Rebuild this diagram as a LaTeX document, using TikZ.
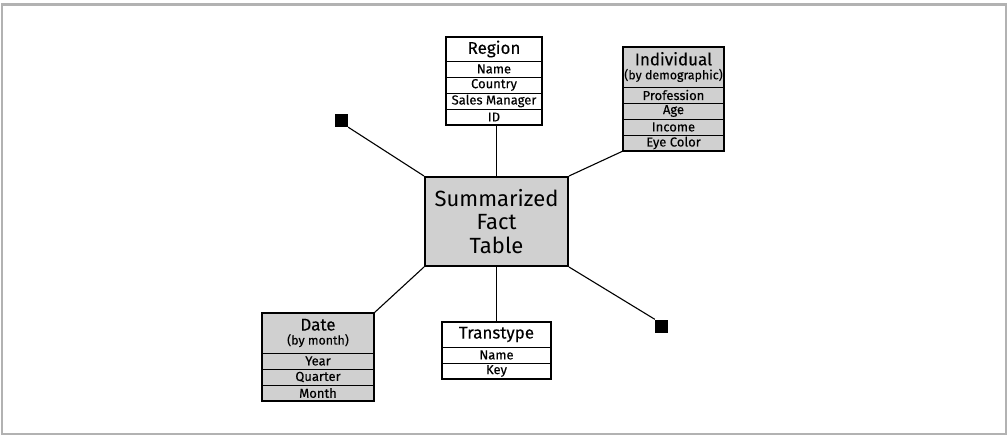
\documentclass[tikz,border=0pt]{standalone}
\usepackage{fontspec}
\setmainfont{Fira Sans}
\newfontfamily\cellfont{Fira Sans}[FakeBold=0.2]
\usetikzlibrary{positioning}

\definecolor{cellgray}{RGB}{208,208,208}
\definecolor{framegray}{RGB}{178,178,178}

\tikzset{
	tabhead/.style={draw, line width=1pt, inner sep=0pt, outer sep=0pt, anchor=north west,
		align=center, font=\cellfont\fontsize{17}{15}\selectfont},
	tabfield/.style={draw, line width=1pt, inner sep=0pt, outer sep=0pt, minimum height=16pt,
		below=0pt of #1, font=\cellfont\fontsize{13}{12}\selectfont},
	taboutline/.style={line width=2pt},
	link/.style={line width=1.1pt},
	stub/.style={fill=black, inner sep=0pt, minimum size=13pt},
	shaded/.style={fill=cellgray},
}
\newcommand{\subhead}[1]{\\[-1pt]{\cellfont\fontsize{12.4}{12}\selectfont #1}}

\begin{document}
\begin{tikzpicture}[x=1pt, y=-1pt]
	\useasboundingbox (0,0) rectangle (1008,436);
	\draw[framegray, line width=2.5pt] (2,4.5) rectangle (1006,434);
	
	% the fact table in the middle
	\node[draw, taboutline, shaded, minimum width=143pt, minimum height=89pt, inner sep=0pt,
		align=center, font=\fontsize{22}{23.5}\selectfont] (fact) at (496.5,221.5)
		{Summarized\\Fact\\Table};
	
	% Region (white)
	\begin{scope}[every node/.append style={minimum width=96pt}]
		\node[tabhead, minimum height=24pt] (region) at (446,37) {Region};
		\node[tabfield=region] (regname) {Name};
		\node[tabfield=regname] (regcountry) {Country};
		\node[tabfield=regcountry] (regmanager) {Sales Manager};
		\node[tabfield=regmanager] (regid) {ID};
	\end{scope}
	\draw[taboutline] (region.north west) rectangle (regid.south east);
	
	% Individual (shaded)
	\begin{scope}[every node/.append style={minimum width=101pt, shaded}]
		\node[tabhead, minimum height=40pt] (indiv) at (623,47) {Individual\subhead{(by demographic)}};
		\node[tabfield=indiv] (indprof) {Profession};
		\node[tabfield=indprof] (indage) {Age};
		\node[tabfield=indage] (indincome) {Income};
		\node[tabfield=indincome] (indeyes) {Eye Color};
	\end{scope}
	\draw[taboutline] (indiv.north west) rectangle (indeyes.south east);
	
	% Date (shaded)
	\begin{scope}[every node/.append style={minimum width=112pt, shaded}]
		\node[tabhead, minimum height=40pt] (date) at (262,313) {Date\subhead{(by month)}};
		\node[tabfield=date] (dateyear) {Year};
		\node[tabfield=dateyear] (datequarter) {Quarter};
		\node[tabfield=datequarter] (datemonth) {Month};
	\end{scope}
	\draw[taboutline] (date.north west) rectangle (datemonth.south east);
	
	% Transtype (white)
	\begin{scope}[every node/.append style={minimum width=109pt}]
		\node[tabhead, minimum height=25pt] (trans) at (442,322) {Transtype};
		\node[tabfield=trans] (transname) {Name};
		\node[tabfield=transname] (transkey) {Key};
	\end{scope}
	\draw[taboutline] (trans.north west) rectangle (transkey.south east);
	
	% loose ends
	\node[stub] (stubnw) at (341.5,120.5) {};
	\node[stub] (stubse) at (661.5,326) {};
	
	% connectors
	\draw[link] (fact.north) -- (fact.north |- regid.south);
	\draw[link] (fact.north east) -- (indeyes.south west);
	\draw[link] (fact.south west) -- (date.north east);
	\draw[link] (fact.south) -- (fact.south |- trans.north);
	\draw[link] (fact.north west) -- (stubnw.south east);
	\draw[link] (fact.south east) -- (stubse.north west);
\end{tikzpicture}
\end{document}
